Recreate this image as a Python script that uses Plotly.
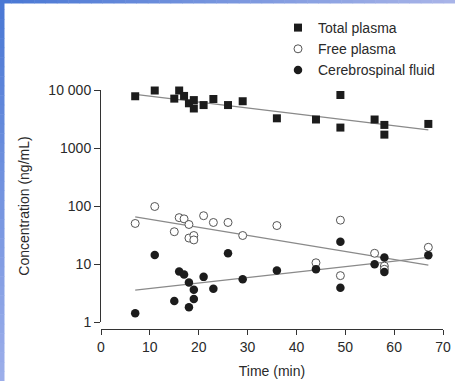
import plotly.graph_objects as go

# ---- data ----
total_t = [7, 11, 15, 16, 17, 18, 19, 19, 21, 23, 26, 29, 36, 44, 49, 49, 56, 58, 58, 67]
total_c = [7800, 9800, 7100, 9800, 7900, 5900, 6700, 4800, 5500, 7000, 5500, 6400,
           3250, 3100, 8200, 2250, 3100, 2500, 1700, 2600]

free_t = [7, 11, 15, 16, 17, 18, 18, 19, 19, 21, 23, 26, 29, 36, 44, 49, 49, 56, 58, 58, 67]
free_c = [50, 98, 36, 63, 60, 48, 28, 31, 26, 68, 52, 52, 31, 46, 10.5, 57, 6.3, 15.3, 9.2, 8.1, 19.4]

csf_t = [7, 11, 15, 16, 17, 18, 18, 19, 19, 21, 23, 26, 29, 36, 44, 49, 49, 56, 58, 58, 67]
csf_c = [1.41, 14.3, 2.3, 7.4, 6.6, 4.8, 1.8, 3.6, 2.5, 6.0, 3.75, 15.3, 5.45, 7.7, 8.1,
         24.2, 3.9, 9.9, 12.9, 7.3, 14.1]

# fitted trend lines (endpoints)
fit_t = [7, 67]
total_fit = [8400, 2050]
free_fit = [65, 9.6]
csf_fit = [3.55, 13]

x_ticks = [0, 10, 20, 30, 40, 50, 60, 70]
y_tickvals = [1, 10, 100, 1000, 10000]
y_ticktext = ["1", "10", "100", "1000", "10 000"]

FONT = "Liberation Sans, Arial, sans-serif"
TXT = "#2a2a2a"
LINE = "#8a8a8a"

fig = go.Figure()

for ys in (total_fit, free_fit, csf_fit):
    fig.add_trace(go.Scatter(x=fit_t, y=ys, mode="lines", showlegend=False,
                             line=dict(color=LINE, width=1.3), hoverinfo="skip",
                             cliponaxis=False))

fig.add_trace(go.Scatter(x=total_t, y=total_c, mode="markers", name="Total plasma",
                         marker=dict(symbol="square", size=8, color="#1c1c1c",
                                     line=dict(width=0)), cliponaxis=False))
fig.add_trace(go.Scatter(x=free_t, y=free_c, mode="markers", name="Free plasma",
                         marker=dict(symbol="circle", size=8, color="white",
                                     line=dict(width=1, color="#555555")), cliponaxis=False))
fig.add_trace(go.Scatter(x=csf_t, y=csf_c, mode="markers", name="Cerebrospinal fluid",
                         marker=dict(symbol="circle", size=8.5, color="#1c1c1c",
                                     line=dict(width=0)), cliponaxis=False))

# plot area geometry (px)
L, R, T, B = 101, 443, 90, 329
W, H = R - L, B - T

def px_x(p):
    return (p - L) / W

def px_y(p):
    return (B - p) / H

# gradient border strips
shapes = []
n = 40
def lerp(c1, c2, f):
    return "rgb(%d,%d,%d)" % tuple(round(a + (b - a) * f) for a, b in zip(c1, c2))
c_start = (74, 120, 212)
c_end_left = (156, 174, 234)
c_end_top = (168, 180, 232)
for i in range(n):
    y0 = 381 * i / n
    y1 = min(381 * (i + 1) / n + 0.5, 381)
    shapes.append(dict(type="rect", xref="paper", yref="paper",
                       x0=px_x(0), x1=px_x(4.5), y0=px_y(y0), y1=px_y(y1),
                       line=dict(width=0), fillcolor=lerp(c_start, c_end_left, i / (n - 1)),
                       layer="above"))
for i in range(n):
    x0 = 455 * i / n
    x1 = min(455 * (i + 1) / n + 0.5, 455)
    shapes.append(dict(type="rect", xref="paper", yref="paper",
                       x0=px_x(x0), x1=px_x(x1), y0=px_y(0), y1=px_y(3.5),
                       line=dict(width=0), fillcolor=lerp(c_start, c_end_top, i / (n - 1)),
                       layer="above"))

fig.update_layout(
    width=455, height=381,
    margin=dict(l=L, r=455 - R, t=T, b=381 - B, autoexpand=False),
    paper_bgcolor="white", plot_bgcolor="white",
    font=dict(family=FONT, size=14, color=TXT),
    showlegend=True,
    legend=dict(x=px_x(278), y=px_y(12), xanchor="left", yanchor="top",
                font=dict(family=FONT, size=14, color=TXT),
                bgcolor="rgba(0,0,0,0)", itemwidth=30, tracegroupgap=0),
    xaxis=dict(range=[0, 70], tickvals=x_ticks, showgrid=False, zeroline=False,
               showline=True, linecolor="#333333", linewidth=1,
               ticks="outside", ticklen=5, tickcolor="#333333",
               anchor="free", position=0, automargin=False,
               title=dict(text="Time (min)", standoff=12, font=dict(size=14)),
               tickfont=dict(size=14)),
    yaxis=dict(type="log", range=[0, 4], domain=[7 / H, 1],
               tickvals=y_tickvals, ticktext=y_ticktext,
               showgrid=False, zeroline=False, automargin=False,
               showline=True, linecolor="#333333", linewidth=1,
               ticks="outside", ticklen=6, tickcolor="#333333",
               title=dict(text="Concentration (ng/mL)", standoff=15, font=dict(size=14)),
               tickfont=dict(size=14)),
    shapes=shapes,
)

fig.write_html("out.html")
